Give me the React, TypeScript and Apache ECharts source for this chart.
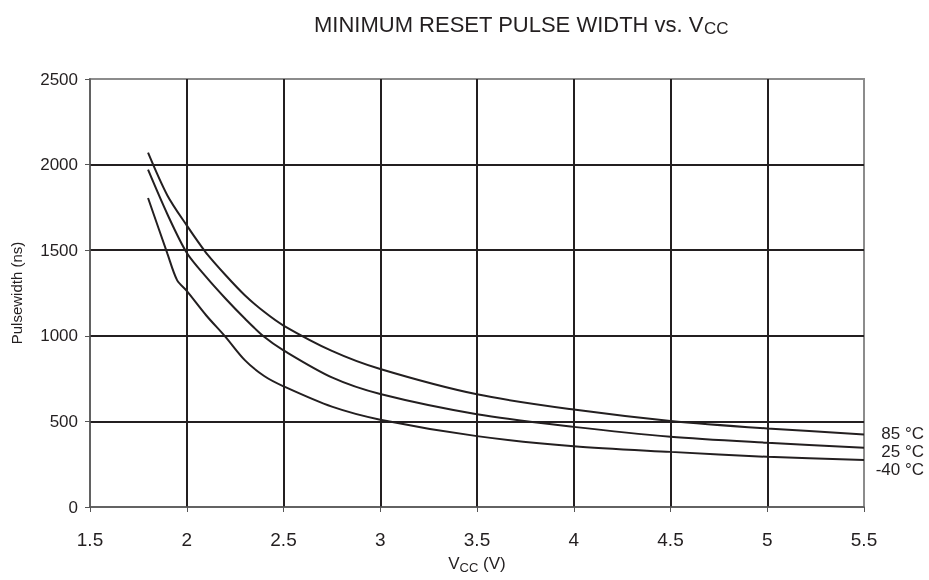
import React, { useEffect, useRef } from "react";
import * as echarts from "echarts";

const xTicks = [1.5, 2, 2.5, 3, 3.5, 4, 4.5, 5, 5.5];
const yTicks = [0, 500, 1000, 1500, 2000, 2500];

const vcc85 = [1.8, 1.9, 2.0, 2.1, 2.2, 2.3, 2.4, 2.5, 2.75, 3, 3.5, 4, 4.5, 5, 5.5];
const pw85 = [2070, 1820, 1645, 1485, 1355, 1237, 1140, 1060, 912, 806, 658, 569, 503, 459, 424];

const vcc25 = [1.8, 1.9, 2.0, 2.1, 2.2, 2.3, 2.4, 2.5, 2.75, 3, 3.5, 4, 4.5, 5, 5.5];
const pw25 = [1970, 1710, 1485, 1344, 1218, 1101, 994, 915, 757, 660, 542, 468, 410, 375, 346];

const vccM40 = [1.8, 1.9, 1.95, 2.0, 2.1, 2.2, 2.3, 2.4, 2.5, 2.75, 3, 3.5, 4, 4.5, 5, 5.5];
const pwM40 = [1805, 1480, 1325, 1262, 1120, 994, 858, 765, 705, 586, 510, 414, 355, 322, 293, 274];

const seriesLabels = ["85 °C", "25 °C", "-40 °C"];

const INK = "#231f20";
const FONT = "'Liberation Sans', Arial, Helvetica, sans-serif";
const NARROW = "'Liberation Sans Narrow', 'Arial Narrow', 'Liberation Sans', Arial, sans-serif";

export default function App() {
  const ref = useRef<HTMLDivElement>(null);
  useEffect(() => {
    if (!ref.current) return;
    const chart = echarts.init(ref.current, undefined, { renderer: "svg" });
    const zip = (xs: number[], ys: number[]) => xs.map((x, i) => [x, ys[i]]);
    const lineSeries = (name: string, data: number[][]) => ({
      name,
      type: "line",
      data,
      smooth: 0.3,
      showSymbol: false,
      symbol: "none",
      lineStyle: { color: INK, width: 2 },
      z: 5,
    });
    const rightLabel = (text: string, y: number) => ({
      type: "text",
      x: 924,
      y,
      style: {
        text,
        fontSize: 17,
        fill: INK,
        fontFamily: FONT,
        align: "right",
        verticalAlign: "middle",
      },
    });
    chart.setOption({
      animation: false,
      textStyle: { fontFamily: FONT },
      grid: {
        left: 90,
        right: 65,
        top: 79,
        bottom: 73,
        show: true,
        borderColor: "#8c8c8c",
        borderWidth: 2,
      },
      xAxis: {
        type: "value",
        min: xTicks[0],
        max: xTicks[xTicks.length - 1],
        interval: 0.5,
        axisLine: { show: true, lineStyle: { color: "#555", width: 1.5 } },
        axisTick: { show: true, length: 5, lineStyle: { color: "#555" } },
        axisLabel: {
          color: INK,
          fontSize: 19,
          margin: 23,
          fontFamily: NARROW,
          formatter: (v: number) => String(v),
        },
        splitLine: {
          show: true,
          showMinLine: false,
          showMaxLine: false,
          lineStyle: { color: INK, width: 2 },
        },
        name: "{v|V}{sub|CC}{v| (V)}",
        nameLocation: "middle",
        nameGap: 46,
        nameTextStyle: {
          rich: {
            v: { fontSize: 17, color: INK, fontFamily: NARROW },
            sub: { fontSize: 13, color: INK, fontFamily: NARROW, padding: [8, 0, 0, 0] },
          },
        },
      },
      yAxis: {
        type: "value",
        min: yTicks[0],
        max: yTicks[yTicks.length - 1],
        interval: 500,
        axisLine: { show: true, lineStyle: { color: "#555", width: 1.5 } },
        axisTick: { show: true, length: 5, lineStyle: { color: "#555" } },
        axisLabel: {
          color: INK,
          fontSize: 17,
          margin: 12,
          fontFamily: FONT,
          formatter: (v: number) => String(v),
        },
        splitLine: {
          show: true,
          showMinLine: false,
          showMaxLine: false,
          lineStyle: { color: INK, width: 2 },
        },
        name: "Pulsewidth (ns)",
        nameLocation: "middle",
        nameGap: 66,
        nameTextStyle: { fontSize: 15, color: INK, fontFamily: FONT },
      },
      title: {
        text: "{t|MINIMUM RESET PULSE WIDTH vs. V}{sub|CC}",
        left: 309,
        top: 6,
        textStyle: {
          fontWeight: "normal",
          rich: {
            t: { fontSize: 22, color: INK, fontFamily: FONT, fontWeight: "normal" },
            sub: {
              fontSize: 17,
              color: INK,
              fontFamily: FONT,
              fontWeight: "normal",
              padding: [9, 0, 0, 0],
            },
          },
        },
      },
      graphic: [
        rightLabel(seriesLabels[0], 433),
        rightLabel(seriesLabels[1], 451),
        rightLabel(seriesLabels[2], 469),
      ],
      series: [
        lineSeries(seriesLabels[0], zip(vcc85, pw85)),
        lineSeries(seriesLabels[1], zip(vcc25, pw25)),
        lineSeries(seriesLabels[2], zip(vccM40, pwM40)),
      ],
    });
    return () => chart.dispose();
  }, []);
  return (
    <div
      ref={ref}
      style={{ position: "fixed", left: 0, top: 0, width: 929, height: 580 }}
    />
  );
}
